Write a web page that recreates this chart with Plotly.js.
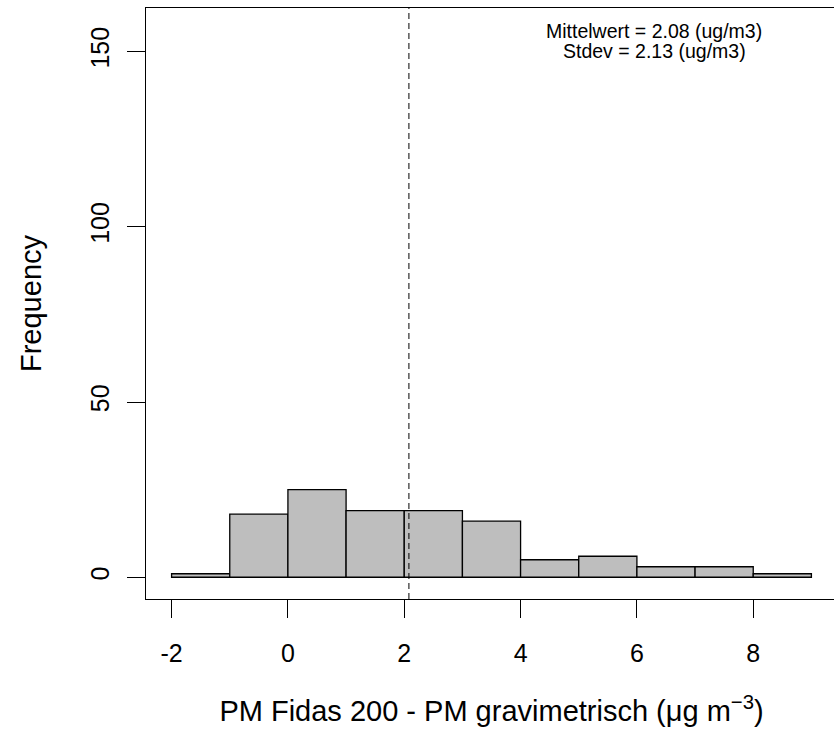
<!DOCTYPE html>
<html>
<head>
<meta charset="utf-8">
<script src="https://cdn.plot.ly/plotly-3.0.1.min.js"></script>
<style>html,body{margin:0;padding:0;overflow:hidden;background:#fff;}</style>
</head>
<body>
<div id="chart"></div>
<script>
// Histogram bins (edges) and counts
const binEdges = [-2, -1, 0, 1, 2, 3, 4, 5, 6, 7, 8, 9];
const counts   = [1, 18, 25, 19, 19, 16, 5, 6, 3, 3, 1];
const meanValue = 2.08;
const sdValue = 2.13;
const xTicks = [-2, 0, 2, 4, 6, 8];
const yTicks = [0, 50, 100, 150];

const mids = counts.map((c, i) => (binEdges[i] + binEdges[i + 1]) / 2);
const widths = counts.map((c, i) => binEdges[i + 1] - binEdges[i]);

const font = 'Liberation Sans, Arial, sans-serif';

const trace = {
  type: 'bar',
  x: mids,
  y: counts,
  width: widths,
  marker: {color: '#BEBEBE', line: {color: '#000000', width: 1.3}},
  hoverinfo: 'skip'
};

const layout = {
  width: 838,
  height: 731,
  margin: {l: 146, r: 1, t: 8, b: 132},
  paper_bgcolor: '#ffffff',
  plot_bgcolor: '#ffffff',
  showlegend: false,
  bargap: 0,
  font: {family: font, color: '#000000'},
  xaxis: {
    range: [-2.44, 9.44],
    tickvals: xTicks,
    ticktext: xTicks.map(String),
    ticks: 'outside',
    ticklen: 18,
    tickwidth: 1,
    tickcolor: '#000000',
    ticklabelstandoff: 14,
    showgrid: false,
    zeroline: false,
    showline: true,
    mirror: true,
    linecolor: '#000000',
    linewidth: 1,
    tickfont: {family: font, size: 25, color: '#000000'},
    title: {text: 'PM Fidas 200 - PM gravimetrisch (μg m<sup>−3</sup>)', font: {family: font, size: 29, color: '#000000'}, standoff: 34}
  },
  yaxis: {
    range: [-6.2, 162.4],
    tickvals: yTicks,
    ticktext: yTicks.map(String),
    tickangle: -90,
    ticks: 'outside',
    ticklen: 18,
    tickwidth: 1,
    tickcolor: '#000000',
    ticklabelstandoff: 8,
    showgrid: false,
    zeroline: false,
    showline: true,
    mirror: true,
    linecolor: '#000000',
    linewidth: 1,
    tickfont: {family: font, size: 25, color: '#000000'},
    title: {text: 'Frequency', font: {family: font, size: 29, color: '#000000'}, standoff: 35}
  },
  shapes: [{
    type: 'line', xref: 'x', yref: 'paper',
    x0: meanValue, x1: meanValue, y0: 0, y1: 1,
    line: {color: '#000000', width: 1, dash: '6px,4px'}
  }],
  annotations: [
    {xref: 'x', yref: 'y', x: 6.3, y: 155.8, text: 'Mittelwert = ' + meanValue.toFixed(2) + ' (ug/m3)',
     showarrow: false, xanchor: 'center', yanchor: 'middle', font: {family: font, size: 19.5, color: '#000000'}},
    {xref: 'x', yref: 'y', x: 6.3, y: 150.0, text: 'Stdev = ' + sdValue.toFixed(2) + ' (ug/m3)',
     showarrow: false, xanchor: 'center', yanchor: 'middle', font: {family: font, size: 19.5, color: '#000000'}}
  ]
};

Plotly.newPlot('chart', [trace], layout, {displayModeBar: false, staticPlot: true});
</script>
</body>
</html>
